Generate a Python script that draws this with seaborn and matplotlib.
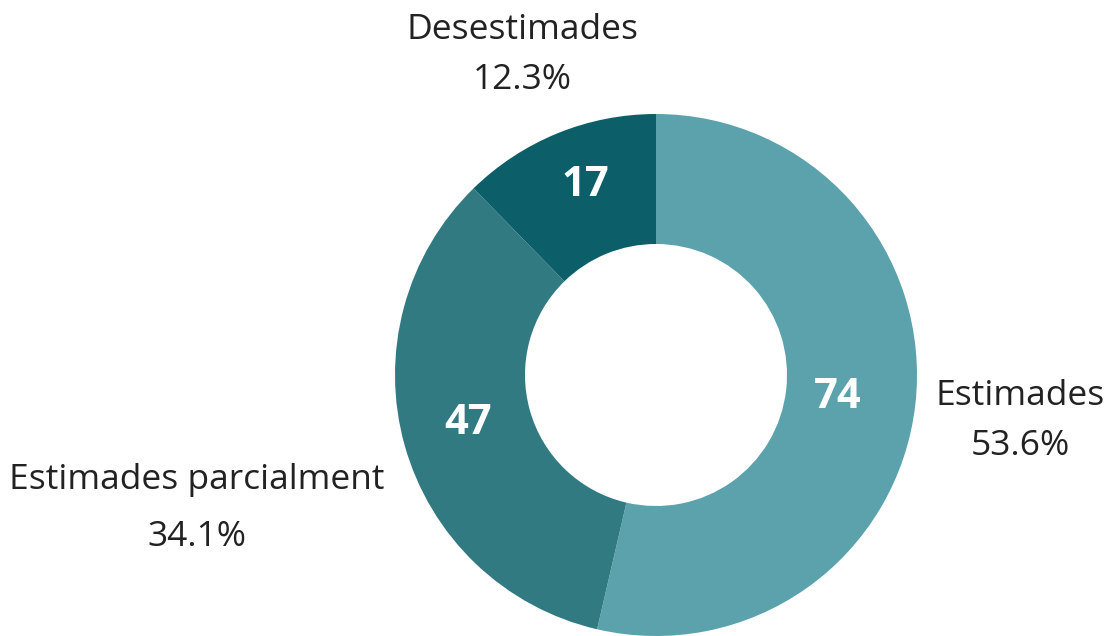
import matplotlib
matplotlib.use("Agg")
import matplotlib.pyplot as plt
import seaborn as sns

sns.set_theme(style="white")
plt.rcParams['font.family'] = ['Open Sans', 'DejaVu Sans']

categories = ["Estimades", "Estimades parcialment", "Desestimades"]
values = [74, 47, 17]
percent_labels = ["53.6%", "34.1%", "12.3%"]
colors = ["#5BA2AC", "#327A82", "#0C5F68"]

W, H = 1107, 636
fig = plt.figure(figsize=(W / 100, H / 100), dpi=100)
ax = fig.add_axes([0, 0, 1, 1])

cx, cy, R = 656, H - 375, 261
wedges, _ = ax.pie(values, colors=colors, startangle=90, counterclock=False,
                   center=(cx, cy), radius=R, frame=True,
                   wedgeprops=dict(width=R - 131, linewidth=0))
ax.set_xlim(0, W)
ax.set_ylim(0, H)
ax.set_aspect("equal")
ax.axis("off")

# value labels inside the ring
val_pos = [(838, 398), (468, 423), (585, 185)]
for v, (x, y) in zip(values, val_pos):
    ax.text(x, H - y, str(v), ha="center", va="center", color="white",
            fontsize=30, fontweight="bold")

# outside category labels
lab_pos = [((1020, 396), (1020, 446)), ((197, 480), (197, 537)), ((522, 30), (522, 80))]
for cat, pct, ((x1, y1), (x2, y2)) in zip(categories, percent_labels, lab_pos):
    ax.text(x1, H - y1, cat, ha="center", va="center", color="#222222", fontsize=25.5)
    ax.text(x2, H - y2, pct, ha="center", va="center", color="#222222", fontsize=25.5)

fig.savefig("out.png", dpi=100, facecolor="white")
